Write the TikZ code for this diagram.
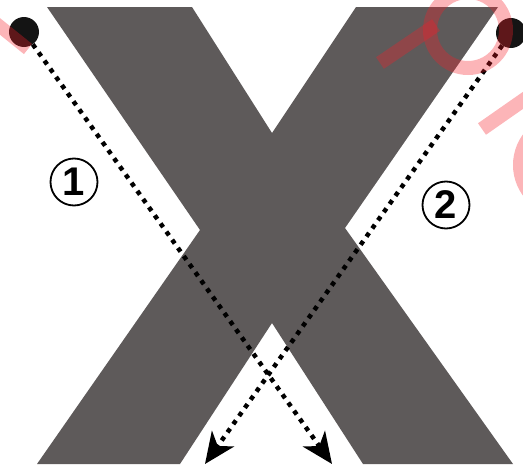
\documentclass[tikz,border=0pt]{standalone}
\usepackage{fontspec}
\setmainfont{Liberation Sans}
\usetikzlibrary{arrows.meta}
\definecolor{xgrey}{RGB}{94,90,90}
\definecolor{wmred}{RGB}{245,30,40}
\begin{document}
\begin{tikzpicture}[x=1pt,y=-1pt,
  dotnode/.style={circle,fill=black!92,minimum size=30pt,inner sep=0pt},
  route/.style={line width=4.5pt,dash pattern=on 4.5pt off 5.5pt,
    -{Stealth[length=31pt,width=27pt,inset=9pt]}},
  numnode/.style={circle,draw,line width=1.8pt,minimum size=47pt,inner sep=0pt,
    font=\bfseries\fontsize{40}{40}\selectfont},
  wmstroke/.style={draw=wmred,draw opacity=0.33,line width=14pt}
]
\useasboundingbox (0,0) rectangle (523,466);
% the X
\fill[xgrey] (47,7) -- (192,7) -- (272,133) -- (356,7) -- (498,7) -- (345,228)
  -- (513,464) -- (363,464) -- (272,323) -- (180,464) -- (37,464) -- (200,230) -- cycle;
% start dots
\node[dotnode] (s1) at (24,32) {};
\node[dotnode] (s2) at (511,33) {};
\coordinate (e1) at (332,464);
\coordinate (e2) at (205,464);
\draw[route] (s1) -- (e1);
\draw[route] (s2) -- (e2);
% numbers
\node[numnode] (n1) at (74,182) {1};
\node[numnode] (n2) at (446,205) {2};
% partly visible watermark strokes
\path[wmstroke] (380,63) -- (436,25);
\path[wmstroke] (468,30) circle[radius=38];
\path[wmstroke] (482,129) -- (535,92);
\path[wmstroke] (565,165) circle[radius=45];
\path[wmstroke,line width=13pt] (-8,20) -- (28,49);
\end{tikzpicture}
\end{document}
